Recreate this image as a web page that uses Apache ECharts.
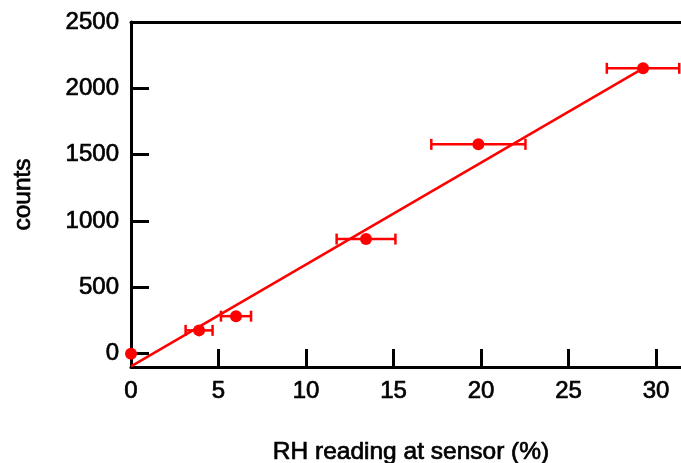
<!DOCTYPE html>
<html>
<head>
<meta charset="utf-8">
<script src="https://cdn.jsdelivr.net/npm/echarts@6/dist/echarts.min.js"></script>
<style>
  html, body { margin: 0; padding: 0; background: #fff; overflow: hidden; }
  #main { width: 681px; height: 463px; }
</style>
</head>
<body>
<div id="main"></div>
<script>
// 数据：RH 读数 (%) 与计数
var rhValues = [0, 3.89, 6.0, 13.43, 19.85, 29.26]
var countValues = [0, 176, 283, 864, 1578, 2151]
// x 方向误差（±）
var rhErrors = [0, 0.77, 0.86, 1.68, 2.69, 2.07]
// 拟合直线两端
var fitX = [0, 29.26]
var fitY = [-95, 2150]
var xTicks = [0, 5, 10, 15, 20, 25, 30]
var yTicks = [0, 500, 1000, 1500, 2000, 2500]

var FONT = 'Liberation Sans, Arial, sans-serif'
var RED = '#ff0000'

var points = rhValues.map(function (x, i) { return [x, countValues[i]] })
var errData = rhValues.map(function (x, i) {
  return [x, countValues[i], x - rhErrors[i], x + rhErrors[i]]
}).filter(function (d) { return d[3] > d[2] })
var fitLine = fitX.map(function (x, i) { return [x, fitY[i]] })

var plain = function (v) { return String(v) }
// 文字稍微加粗一点
var textStyle = {
  fontFamily: FONT, fontSize: 24, color: '#000',
  textBorderColor: '#000', textBorderWidth: 0.7
}
var nameStyle = Object.assign({}, textStyle, { fontSize: 24.5 })

var myChart = echarts.init(document.getElementById('main'))

const option = {
  backgroundColor: '#fff',
  animation: false,
  grid: { left: 131, top: 22, right: -10, bottom: 96, outerBoundsMode: 'none' },
  xAxis: [
    {
      type: 'value',
      min: 0,
      max: 32,
      name: 'RH reading at sensor (%)',
      nameLocation: 'middle',
      nameGap: 73,
      nameTextStyle: nameStyle,
      axisLine: { onZero: false, lineStyle: { color: '#000', width: 3 } },
      axisTick: {
        inside: true, length: 18, customValues: xTicks,
        lineStyle: { color: '#000', width: 3 }
      },
      axisLabel: Object.assign({ customValues: xTicks, margin: 12, formatter: plain }, textStyle),
      splitLine: { show: false }
    },
    {
      type: 'value',
      position: 'top',
      min: 0,
      max: 32,
      axisLine: { onZero: false, lineStyle: { color: '#000', width: 3 } },
      axisTick: { show: false },
      axisLabel: { show: false },
      splitLine: { show: false }
    }
  ],
  yAxis: {
    type: 'value',
    min: -100,
    max: 2500,
    name: 'counts',
    nameLocation: 'middle',
    nameGap: 95,
    nameTextStyle: nameStyle,
    axisLine: { show: true, onZero: false, lineStyle: { color: '#000', width: 3 } },
    axisTick: {
      inside: true, length: 18, customValues: yTicks,
      lineStyle: { color: '#000', width: 3 }
    },
    axisLabel: Object.assign({ customValues: yTicks, margin: 12, formatter: plain }, textStyle),
    splitLine: { show: false }
  },
  series: [
    {
      type: 'line',
      data: fitLine,
      symbol: 'none',
      lineStyle: { color: RED, width: 2.5 },
      z: 2
    },
    {
      type: 'custom',
      data: errData,
      renderItem: function (params, api) {
        var lo = api.coord([api.value(2), api.value(1)])
        var hi = api.coord([api.value(3), api.value(1)])
        var cap = 5.5
        var style = { stroke: RED, lineWidth: 2.5 }
        return {
          type: 'group',
          children: [
            { type: 'line', shape: { x1: lo[0], y1: lo[1], x2: hi[0], y2: hi[1] }, style: style },
            { type: 'line', shape: { x1: lo[0], y1: lo[1] - cap, x2: lo[0], y2: lo[1] + cap }, style: style },
            { type: 'line', shape: { x1: hi[0], y1: hi[1] - cap, x2: hi[0], y2: hi[1] + cap }, style: style }
          ]
        }
      },
      z: 3
    },
    {
      type: 'scatter',
      data: points,
      symbol: 'circle',
      symbolSize: 12,
      itemStyle: { color: RED, opacity: 1 },
      clip: false,
      z: 4
    }
  ]
}
myChart.setOption(option)
</script>
</body>
</html>
